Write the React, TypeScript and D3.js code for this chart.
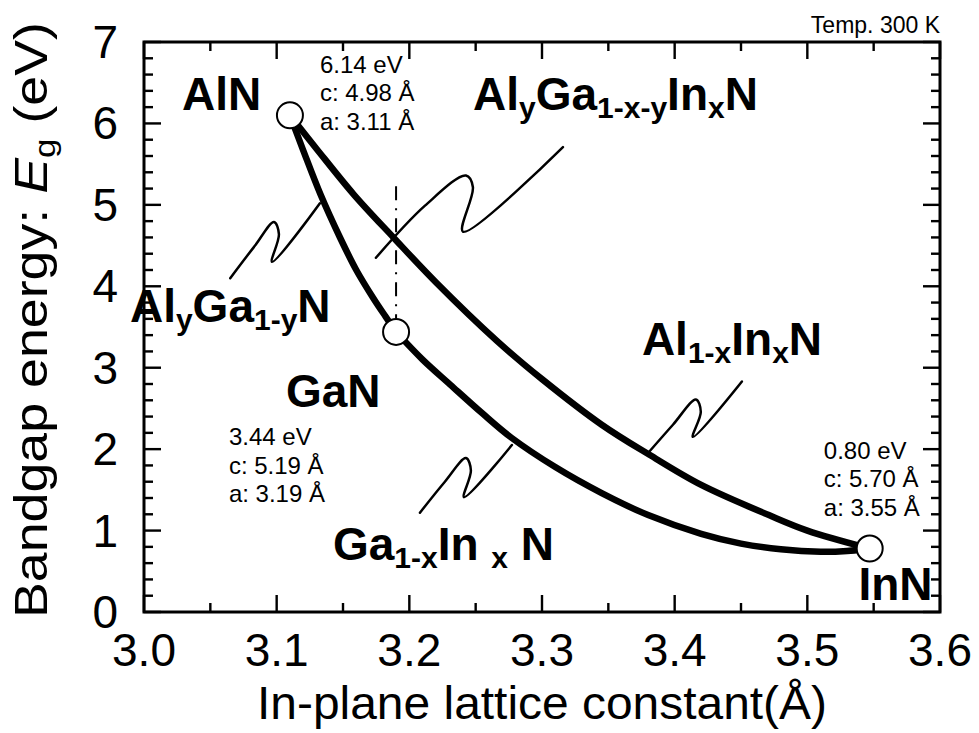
import React, { useEffect, useRef } from "react";
import * as d3 from "d3";

const X_TICKS = [3.0, 3.1, 3.2, 3.3, 3.4, 3.5, 3.6];
const X_MINOR = [3.05, 3.15, 3.25, 3.35, 3.45, 3.55];
const Y_TICKS = [0, 1, 2, 3, 4, 5, 6, 7];
const Y_MINOR = [0.2, 0.4, 0.6, 0.8, 1.2, 1.4, 1.6, 1.8, 2.2, 2.4, 2.6, 2.8, 3.2, 3.4, 3.6, 3.8,
  4.2, 4.4, 4.6, 4.8, 5.2, 5.4, 5.6, 5.8, 6.2, 6.4, 6.6, 6.8];

// binary compounds: in-plane lattice constant a (Å), bandgap (eV)
const BINARIES = [
  { name: "AlN", a: 3.11, eg: 6.1 },
  { name: "GaN", a: 3.19, eg: 3.44 },
  { name: "InN", a: 3.547, eg: 0.78 },
];

// ternary curves
const AL_GA_N: [number, number][] = [
  [3.11, 6.1], [3.12, 5.67], [3.133, 5.13], [3.148, 4.59], [3.16, 4.2],
  [3.173, 3.85], [3.182, 3.63], [3.19, 3.44],
];
const GA_IN_N: [number, number][] = [
  [3.19, 3.44], [3.21, 3.1], [3.231, 2.79], [3.255, 2.44], [3.277, 2.14],
  [3.31, 1.78], [3.345, 1.46], [3.38, 1.19], [3.42, 0.96], [3.45, 0.84],
  [3.48, 0.77], [3.51, 0.74], [3.53, 0.75], [3.547, 0.78],
];
const AL_IN_N: [number, number][] = [
  [3.11, 6.1], [3.13, 5.69], [3.158, 5.13], [3.188, 4.6], [3.22, 4.05],
  [3.266, 3.33], [3.3, 2.86], [3.345, 2.3], [3.381, 1.93], [3.42, 1.56],
  [3.471, 1.19], [3.5, 1.0], [3.547, 0.78],
];

// squiggly leader lines (data coords): start, bend, peak, hook, bottom, end
const LEADERS: [number, number][][] = [
  [[3.1748, 4.35], [3.2118, 4.99], [3.2427, 5.36], [3.2479, 5.22], [3.2404, 4.67], [3.3158, 5.71]],
  [[3.065, 4.1], [3.0837, 4.5], [3.098, 4.79], [3.1017, 4.64], [3.0965, 4.3], [3.1326, 5.02]],
  [[3.208, 1.22], [3.2268, 1.6], [3.2427, 1.89], [3.2464, 1.74], [3.2412, 1.41], [3.2773, 2.05]],
  [[3.3798, 1.95], [3.3987, 2.3], [3.416, 2.61], [3.4197, 2.46], [3.4137, 2.15], [3.4507, 2.83]],
];

const GAN_GUIDE: [number, number][] = [[3.19, 5.23], [3.19, 3.6]];

type Seg = [string, boolean?];
const FORMULAS: { segs: Seg[]; at: [number, number] }[] = [
  { segs: [["Al"], ["y", true], ["Ga"], ["1-x-y", true], ["In"], ["x", true], ["N"]], at: [3.248, 6.165] },
  { segs: [["Al"], ["y", true], ["Ga"], ["1-y", true], ["N"]], at: [2.9894, 3.56] },
  { segs: [["Ga"], ["1-x", true], ["In "], ["x", true], [" N"]], at: [3.1424, 0.64] },
  { segs: [["Al"], ["1-x", true], ["In"], ["x", true], ["N"]], at: [3.3753, 3.156] },
];

const NAME_POS: Record<string, [number, number]> = {
  AlN: [3.0286, 6.165],
  GaN: [3.107, 2.517],
  InN: [3.5385, 0.147],
};

const PROPS = [
  { lines: ["6.14 eV", "c: 4.98 Å", "a: 3.11 Å"], at: [3.1326, 6.62] },
  { lines: ["3.44 eV", "c: 5.19 Å", "a: 3.19 Å"], at: [3.064, 2.05] },
  { lines: ["0.80 eV", "c: 5.70 Å", "a: 3.55 Å"], at: [3.5124, 1.88] },
];

const FONT = "'Liberation Sans', Arial, Helvetica, sans-serif";

const x = d3.scaleLinear().domain([3.0, 3.6]).range([144, 940]);
const y = d3.scaleLinear().domain([0, 7]).range([612, 42]);
const LEFT = x(3.0), RIGHT = x(3.6), BOTTOM = y(0), TOP = y(7);

// inward ticks on all four sides
const Ticks: React.FC = () => {
  const major = 17, minor = 9, w = 2.4;
  const xs = [...X_TICKS.map(v => ({ v, l: major })), ...X_MINOR.map(v => ({ v, l: minor }))];
  const ys = [...Y_TICKS.map(v => ({ v, l: major })), ...Y_MINOR.map(v => ({ v, l: minor }))];
  return (
    <g fill="#000">
      {xs.map((t, i) => (
        <React.Fragment key={"x" + i}>
          <rect x={x(t.v) - w / 2} width={w} y={BOTTOM - t.l} height={t.l} />
          <rect x={x(t.v) - w / 2} width={w} y={TOP} height={t.l} />
        </React.Fragment>
      ))}
      {ys.map((t, i) => (
        <React.Fragment key={"y" + i}>
          <rect x={LEFT} width={t.l} y={y(t.v) - w / 2} height={w} />
          <rect x={RIGHT - t.l} width={t.l} y={y(t.v) - w / 2} height={w} />
        </React.Fragment>
      ))}
    </g>
  );
};

const App: React.FC = () => {
  const gRef = useRef<SVGGElement | null>(null);

  useEffect(() => {
    if (!gRef.current) return;
    const svg = d3.select(gRef.current);
    svg.selectAll("*").remove();

    // tick labels
    svg.append("g").selectAll("text").data(X_TICKS).enter().append("text")
      .attr("x", d => x(d)).attr("y", BOTTOM + 54)
      .attr("text-anchor", "middle")
      .attr("font-family", FONT).attr("font-size", 46)
      .text(d => d3.format(".1f")(d));
    svg.append("g").selectAll("text").data(Y_TICKS).enter().append("text")
      .attr("x", LEFT - 26).attr("y", d => y(d) + 16)
      .attr("text-anchor", "end")
      .attr("font-family", FONT).attr("font-size", 46)
      .text(d => d3.format("d")(d));

    // axis titles
    svg.append("text")
      .attr("x", (LEFT + RIGHT) / 2).attr("y", 719)
      .attr("text-anchor", "middle")
      .attr("font-family", FONT).attr("font-size", 46)
      .attr("textLength", 570).attr("lengthAdjust", "spacingAndGlyphs")
      .text("In-plane lattice constant(Å)");

    const yt = svg.append("text")
      .attr("transform", `translate(47,320) rotate(-90)`)
      .attr("text-anchor", "middle")
      .attr("font-family", FONT).attr("font-size", 46)
      .attr("textLength", 596).attr("lengthAdjust", "spacingAndGlyphs")
      .style("white-space", "pre");
    yt.append("tspan").text("Bandgap energy: ");
    yt.append("tspan").attr("font-style", "italic").text("E");
    yt.append("tspan").attr("font-size", 30).attr("dy", 8).text("g");
    yt.append("tspan").attr("dy", -8).text(" (eV)");

    svg.append("text")
      .attr("x", RIGHT).attr("y", 33)
      .attr("text-anchor", "end")
      .attr("font-family", FONT).attr("font-size", 23)
      .text("Temp. 300 K");

    // dash-dot guide at GaN lattice constant
    svg.append("path")
      .attr("d", d3.line<[number, number]>().x(d => x(d[0])).y(d => y(d[1]))(GAN_GUIDE))
      .attr("fill", "none").attr("stroke", "#000").attr("stroke-width", 2)
      .attr("stroke-dasharray", "14 8 2 8");

    // leaders
    const leaderLine = d3.line<[number, number]>()
      .x(d => x(d[0])).y(d => y(d[1]))
      .curve(d3.curveCatmullRom.alpha(0.5));
    LEADERS.forEach(pts => {
      svg.append("path")
        .attr("d", leaderLine(pts))
        .attr("fill", "none").attr("stroke", "#000").attr("stroke-width", 2.5)
        .attr("stroke-linecap", "round").attr("stroke-linejoin", "round");
    });

    // curves
    const curveLine = d3.line<[number, number]>()
      .x(d => x(d[0])).y(d => y(d[1]))
      .curve(d3.curveCatmullRom.alpha(0.5));
    [AL_GA_N, GA_IN_N, AL_IN_N].forEach(c => {
      svg.append("path")
        .attr("d", curveLine(c))
        .attr("fill", "none").attr("stroke", "#000").attr("stroke-width", 6.5)
        .attr("stroke-linejoin", "round");
    });

    // binary points
    svg.selectAll("circle.pt").data(BINARIES).enter().append("circle")
      .attr("class", "pt")
      .attr("cx", d => x(d.a)).attr("cy", d => y(d.eg))
      .attr("r", 13)
      .attr("fill", "#fff").attr("stroke", "#000").attr("stroke-width", 2);

    BINARIES.forEach(b => {
      const p = NAME_POS[b.name];
      svg.append("text")
        .attr("x", x(p[0])).attr("y", y(p[1]))
        .attr("font-family", FONT).attr("font-size", 46).attr("font-weight", "bold")
        .text(b.name);
    });

    PROPS.forEach(p => {
      const t = svg.append("text")
        .attr("x", x(p.at[0])).attr("y", y(p.at[1]))
        .attr("font-family", FONT).attr("font-size", 24);
      p.lines.forEach((l, i) => {
        t.append("tspan").attr("x", x(p.at[0])).attr("dy", i === 0 ? 0 : 28.5).text(l);
      });
    });

    FORMULAS.forEach(f => {
      const t = svg.append("text")
        .attr("x", x(f.at[0])).attr("y", y(f.at[1]))
        .attr("font-family", FONT).attr("font-size", 46).attr("font-weight", "bold")
        .style("white-space", "pre");
      let down = false;
      f.segs.forEach(([s, sub]) => {
        const ts = t.append("tspan").text(s);
        if (sub && !down) { ts.attr("dy", 8).attr("font-size", 30); down = true; }
        else if (sub) { ts.attr("font-size", 30); }
        else if (down) { ts.attr("dy", -8); down = false; }
      });
    });
  }, []);

  return (
    <svg
      width={979}
      height={733}
      style={{ position: "absolute", left: 0, top: 0, background: "#fff" }}
    >
      <g ref={gRef} />
      <Ticks />
      <rect
        x={LEFT} y={TOP} width={RIGHT - LEFT} height={BOTTOM - TOP}
        fill="none" stroke="#000" strokeWidth={3}
      />
    </svg>
  );
};

export default App;
